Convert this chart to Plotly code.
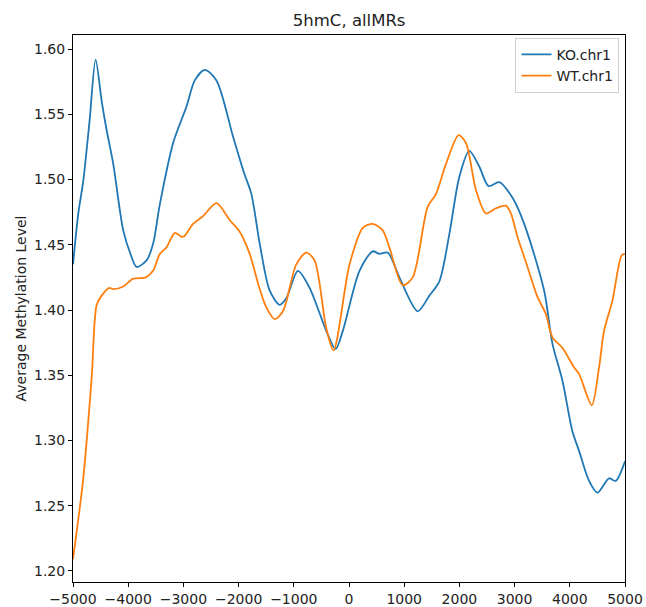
import plotly.graph_objects as go

# Profile of average 5hmC methylation around MRs (distance in bp)
ko_pos = [-5000, -4904, -4814, -4700, -4590, -4480, -4391, -4271, -4090, -3950, -3848,
          -3667, -3548, -3427, -3186, -2944, -2794, -2613, -2401, -2101, -1900, -1769,
          -1618, -1438, -1257, -1136, -926, -714, -412, -244, -112, 190, 430, 552,
          702, 913, 1244, 1456, 1637, 1817, 1998, 2179, 2360, 2528, 2721, 2962, 3174,
          3535, 3686, 3866, 4047, 4168, 4349, 4499, 4711, 4831, 5000]
ko_val = [1.435, 1.474, 1.499, 1.545, 1.592, 1.560, 1.538, 1.512, 1.461, 1.442, 1.433,
          1.438, 1.451, 1.481, 1.528, 1.556, 1.576, 1.584, 1.576, 1.533, 1.505, 1.489,
          1.451, 1.415, 1.404, 1.409, 1.430, 1.417, 1.384, 1.370, 1.384, 1.430, 1.445, 1.443,
          1.444, 1.425, 1.399, 1.411, 1.422, 1.458, 1.502, 1.522, 1.510, 1.495, 1.498, 1.486, 1.466,
          1.415, 1.374, 1.346, 1.307, 1.292, 1.269, 1.260, 1.271, 1.269, 1.284]

wt_pos = [-5000, -4814, -4662, -4571, -4481, -4343, -4271, -4090, -3909, -3680, -3550,
          -3427, -3306, -3156, -3005, -2825, -2644, -2401, -2161, -1980, -1799, -1618,
          -1497, -1347, -1197, -955, -774, -624, -412, -280, 10, 250, 430, 611, 732,
          973, 1154, 1425, 1577, 1757, 1986, 2119, 2300, 2481, 2662, 2843, 2933, 3053,
          3234, 3414, 3566, 3686, 3866, 4078, 4168, 4398, 4530, 4620, 4771, 4940, 5000]
wt_val = [1.209, 1.271, 1.348, 1.404, 1.411, 1.417, 1.416, 1.418, 1.424, 1.425, 1.430,
          1.443, 1.448, 1.459, 1.456, 1.466, 1.472, 1.482, 1.469, 1.460, 1.443, 1.416,
          1.402, 1.393, 1.399, 1.435, 1.444, 1.438, 1.386, 1.369, 1.435, 1.463, 1.466, 1.461, 1.448,
          1.419, 1.425, 1.479, 1.489, 1.512, 1.534, 1.528, 1.492, 1.474, 1.478, 1.480, 1.474, 1.456,
          1.433, 1.410, 1.397, 1.379, 1.371, 1.356, 1.351, 1.327, 1.356, 1.384, 1.407, 1.442, 1.443]

x_ticks = [-5000, -4000, -3000, -2000, -1000, 0, 1000, 2000, 3000, 4000, 5000]
y_ticks = [1.20, 1.25, 1.30, 1.35, 1.40, 1.45, 1.50, 1.55, 1.60]

fig = go.Figure()
fig.add_trace(go.Scatter(x=ko_pos, y=ko_val, mode="lines", name="KO.chr1",
                         line=dict(color="#1f77b4", width=1.8, shape="spline", smoothing=0.8)))
fig.add_trace(go.Scatter(x=wt_pos, y=wt_val, mode="lines", name="WT.chr1",
                         line=dict(color="#ff7f0e", width=1.8, shape="spline", smoothing=0.8)))

axis_common = dict(showgrid=False, zeroline=False, showline=True, linecolor="black",
                   linewidth=1, mirror=True, ticks="outside", ticklen=4, tickcolor="black",
                   automargin=False,
                   tickfont=dict(family="DejaVu Sans", size=14, color="#222222"))

fig.update_layout(
    width=646, height=607,
    margin=dict(l=73, r=21, t=35, b=25, autoexpand=False),
    paper_bgcolor="white", plot_bgcolor="white",
    font=dict(family="DejaVu Sans", color="black"),
    title=dict(text="5hmC, allMRs", x=0.5405, xanchor="center", y=0.967, yanchor="middle",
               font=dict(family="DejaVu Sans", size=16.5, color="#222222")),
    xaxis=dict(range=[-5000, 5000], tickvals=x_ticks, **axis_common),
    yaxis=dict(range=[1.1915, 1.6108], tickvals=y_ticks, tickformat=".2f",
               title=dict(text="Average Methylation Level", standoff=4,
                          font=dict(family="DejaVu Sans", size=14, color="#222222")),
               **axis_common),
    legend=dict(x=0.99, y=0.995, xanchor="right", yanchor="top",
                bgcolor="rgba(255,255,255,0.8)", bordercolor="#d0d0d0", borderwidth=1,
                font=dict(family="DejaVu Sans", size=14, color="#222222"),
                tracegroupgap=0, itemwidth=30),
)

fig.write_html("out.html")
